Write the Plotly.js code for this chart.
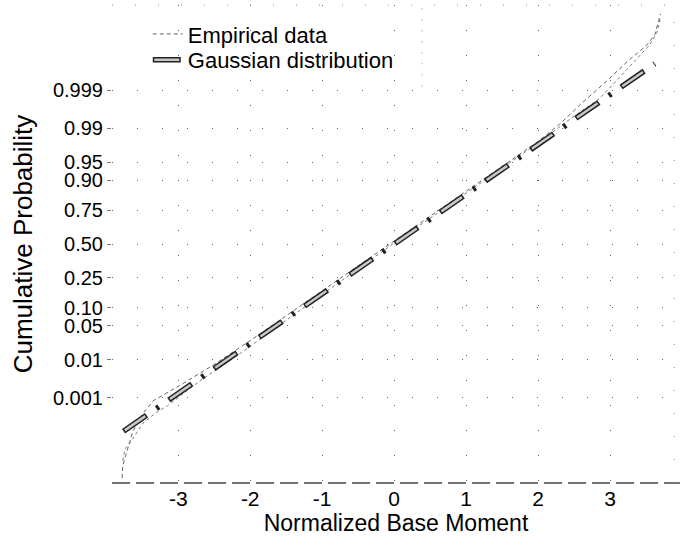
<!DOCTYPE html>
<html>
<head>
<meta charset="utf-8">
<script src="https://cdn.plot.ly/plotly-3.0.1.min.js"></script>
<style>
  html, body { margin: 0; padding: 0; background: #fff; }
  #chart { width: 686px; height: 537px; }
</style>
</head>
<body>
<div id="chart"></div>
<script>
// ---- data (x: normalized base moment, z: probit of cumulative probability) ----
const xTicks = [-3, -2, -1, 0, 1, 2, 3];
const probTicks = [0.001, 0.01, 0.05, 0.10, 0.25, 0.50, 0.75, 0.90, 0.95, 0.99, 0.999];
const probTickLabels = ['0.001', '0.01', '0.05', '0.10', '0.25', '0.50', '0.75', '0.90', '0.95', '0.99', '0.999'];

const empAX = [-3.78, -3.77, -3.72, -3.63, -3.5, -3.35, -3.0, -2.5, -2.0, -1.5, -1.0, -0.5, 0.0, 0.5, 1.0, 1.5, 2.0, 2.3, 2.6, 2.95, 3.25, 3.5, 3.62, 3.7];
const empAZ = [-4.7, -4.45, -4.2, -3.76, -3.42, -3.15, -2.86, -2.42, -1.94, -1.44, -0.94, -0.44, 0.06, 0.56, 1.06, 1.57, 2.06, 2.41, 2.82, 3.27, 3.68, 3.98, 4.2, 4.62];

const empBX = [-3.77, -3.74, -3.65, -3.49, -3.3, -3.15, -2.7, -2.14, -1.5, -1.0, -0.5, 0.0, 0.5, 1.0, 1.5, 2.0, 2.5, 2.85, 3.1, 3.35, 3.55, 3.65, 3.7];
const empBZ = [-4.35, -4.12, -3.95, -3.6, -3.38, -3.25, -2.75, -2.2, -1.53, -1.01, -0.49, 0.02, 0.52, 1.02, 1.52, 2.03, 2.57, 2.92, 3.3, 3.7, 4.0, 4.25, 4.55];

const gaussX = [-3.76, -2, 0, 2, 3.62];
const gaussZ = [-3.76, -2, 0, 2, 3.62];

// ---- probit (inverse standard normal CDF) used for the axis scale ----
function probit(p) {
  const a = [-3.969683028665376e+01, 2.209460984245205e+02, -2.759285104469687e+02, 1.383577518672690e+02, -3.066479806614716e+01, 2.506628277459239e+00];
  const b = [-5.447609879822406e+01, 1.615858368580409e+02, -1.556989798598866e+02, 6.680131188771972e+01, -1.328068155288572e+01];
  const c = [-7.784894002430293e-03, -3.223964580411365e-01, -2.400758277161838e+00, -2.549671010115884e+00, 4.374664141464968e+00, 2.938163982698783e+00];
  const d = [7.784695709041462e-03, 3.224671290700398e-01, 2.445134137142996e+00, 3.754408661907416e+00];
  const pl = 0.02425, ph = 1 - pl;
  let q, r;
  if (p < pl) {
    q = Math.sqrt(-2 * Math.log(p));
    return (((((c[0]*q+c[1])*q+c[2])*q+c[3])*q+c[4])*q+c[5]) / ((((d[0]*q+d[1])*q+d[2])*q+d[3])*q+1);
  } else if (p <= ph) {
    q = p - 0.5; r = q * q;
    return (((((a[0]*r+a[1])*r+a[2])*r+a[3])*r+a[4])*r+a[5])*q / (((((b[0]*r+b[1])*r+b[2])*r+b[3])*r+b[4])*r+1);
  } else {
    q = Math.sqrt(-2 * Math.log(1 - p));
    return -(((((c[0]*q+c[1])*q+c[2])*q+c[3])*q+c[4])*q+c[5]) / ((((d[0]*q+d[1])*q+d[2])*q+d[3])*q+1);
  }
}
const yTickVals = probTicks.map(probit);

const FONT = 'Liberation Sans, Arial, Helvetica, sans-serif';

const traces = [
  {
    x: empBX, y: empBZ, type: 'scatter', mode: 'lines', showlegend: false,
    line: { color: '#7a7a7a', width: 1, dash: '3px,3px' }, hoverinfo: 'skip'
  },
  {
    x: empAX, y: empAZ, type: 'scatter', mode: 'lines', name: 'Empirical data',
    legend: 'legend',
    line: { color: '#666', width: 1, dash: '4px,3px' }
  },
  {
    x: gaussX, y: gaussZ, type: 'scatter', mode: 'lines', name: 'Gaussian distribution',
    legend: 'legend2',
    line: { color: '#222', width: 5.5, dash: '28px,12px,3px,12px' }
  },
  {
    x: gaussX, y: gaussZ, type: 'scatter', mode: 'lines', name: ' ',
    legend: 'legend3',
    line: { color: '#c8c8c8', width: 2.5, dash: '0px,1.5px,25px,28.5px' }
  }
];

const legendBase = {
  bgcolor: 'rgba(0,0,0,0)', borderwidth: 0,
  xanchor: 'left', yanchor: 'top',
  font: { family: FONT, size: 22, color: '#000' }
};

const layout = {
  width: 686, height: 537,
  margin: { l: 112, r: 6, t: 5, b: 54 },
  paper_bgcolor: '#fff', plot_bgcolor: '#fff',
  font: { family: FONT, size: 21, color: '#000' },
  xaxis: {
    range: [-3.92, 3.97],
    tickvals: xTicks, ticktext: xTicks.map(String),
    showgrid: true, gridcolor: '#666', gridwidth: 1, griddash: '1px,24px',
    zeroline: false, showline: false,
    ticks: '', ticklabelstandoff: 1,
    tickfont: { family: FONT, size: 21, color: '#000' },
    title: { text: 'Normalized Base Moment', font: { family: FONT, size: 23, color: '#000' }, standoff: 4 },
    automargin: false
  },
  yaxis: {
    range: [-4.8, 4.8],
    tickvals: yTickVals, ticktext: probTickLabels,
    showgrid: true, gridcolor: '#666', gridwidth: 1, griddash: '1px,24px',
    zeroline: false, showline: false,
    ticks: 'outside', ticklen: 4, tickcolor: '#777',
    tickfont: { family: FONT, size: 20, color: '#000' },
    title: { text: 'Cumulative Probability', font: { family: FONT, size: 26, color: '#000' }, standoff: 12 }
  },
  legend: Object.assign({}, legendBase, { x: 0.063, y: 0.983 }),
  legend2: Object.assign({}, legendBase, { x: 0.063, y: 0.929 }),
  legend3: Object.assign({}, legendBase, { x: 0.063, y: 0.929 }),
  shapes: [
    { type: 'line', xref: 'paper', yref: 'paper', x0: 0, x1: 1, y0: 0, y1: 0,
      line: { color: '#444', width: 1.5, dash: '18px,6px' } },
    { type: 'line', xref: 'paper', yref: 'paper', x0: 0, x1: 1, y0: 1, y1: 1,
      line: { color: '#888', width: 1, dash: '1px,22px' } },
    { type: 'line', xref: 'paper', yref: 'paper', x0: 0.99, x1: 0.99, y0: 0, y1: 1,
      line: { color: '#888', width: 1, dash: '1px,22px' } },
    { type: 'line', xref: 'paper', yref: 'paper', x0: 0.546, x1: 0.546, y0: 0.83, y1: 1,
      line: { color: '#888', width: 1, dash: '1px,10px' } }
  ]
};

Plotly.newPlot('chart', traces, layout, { staticPlot: true, displayModeBar: false });
</script>
</body>
</html>
